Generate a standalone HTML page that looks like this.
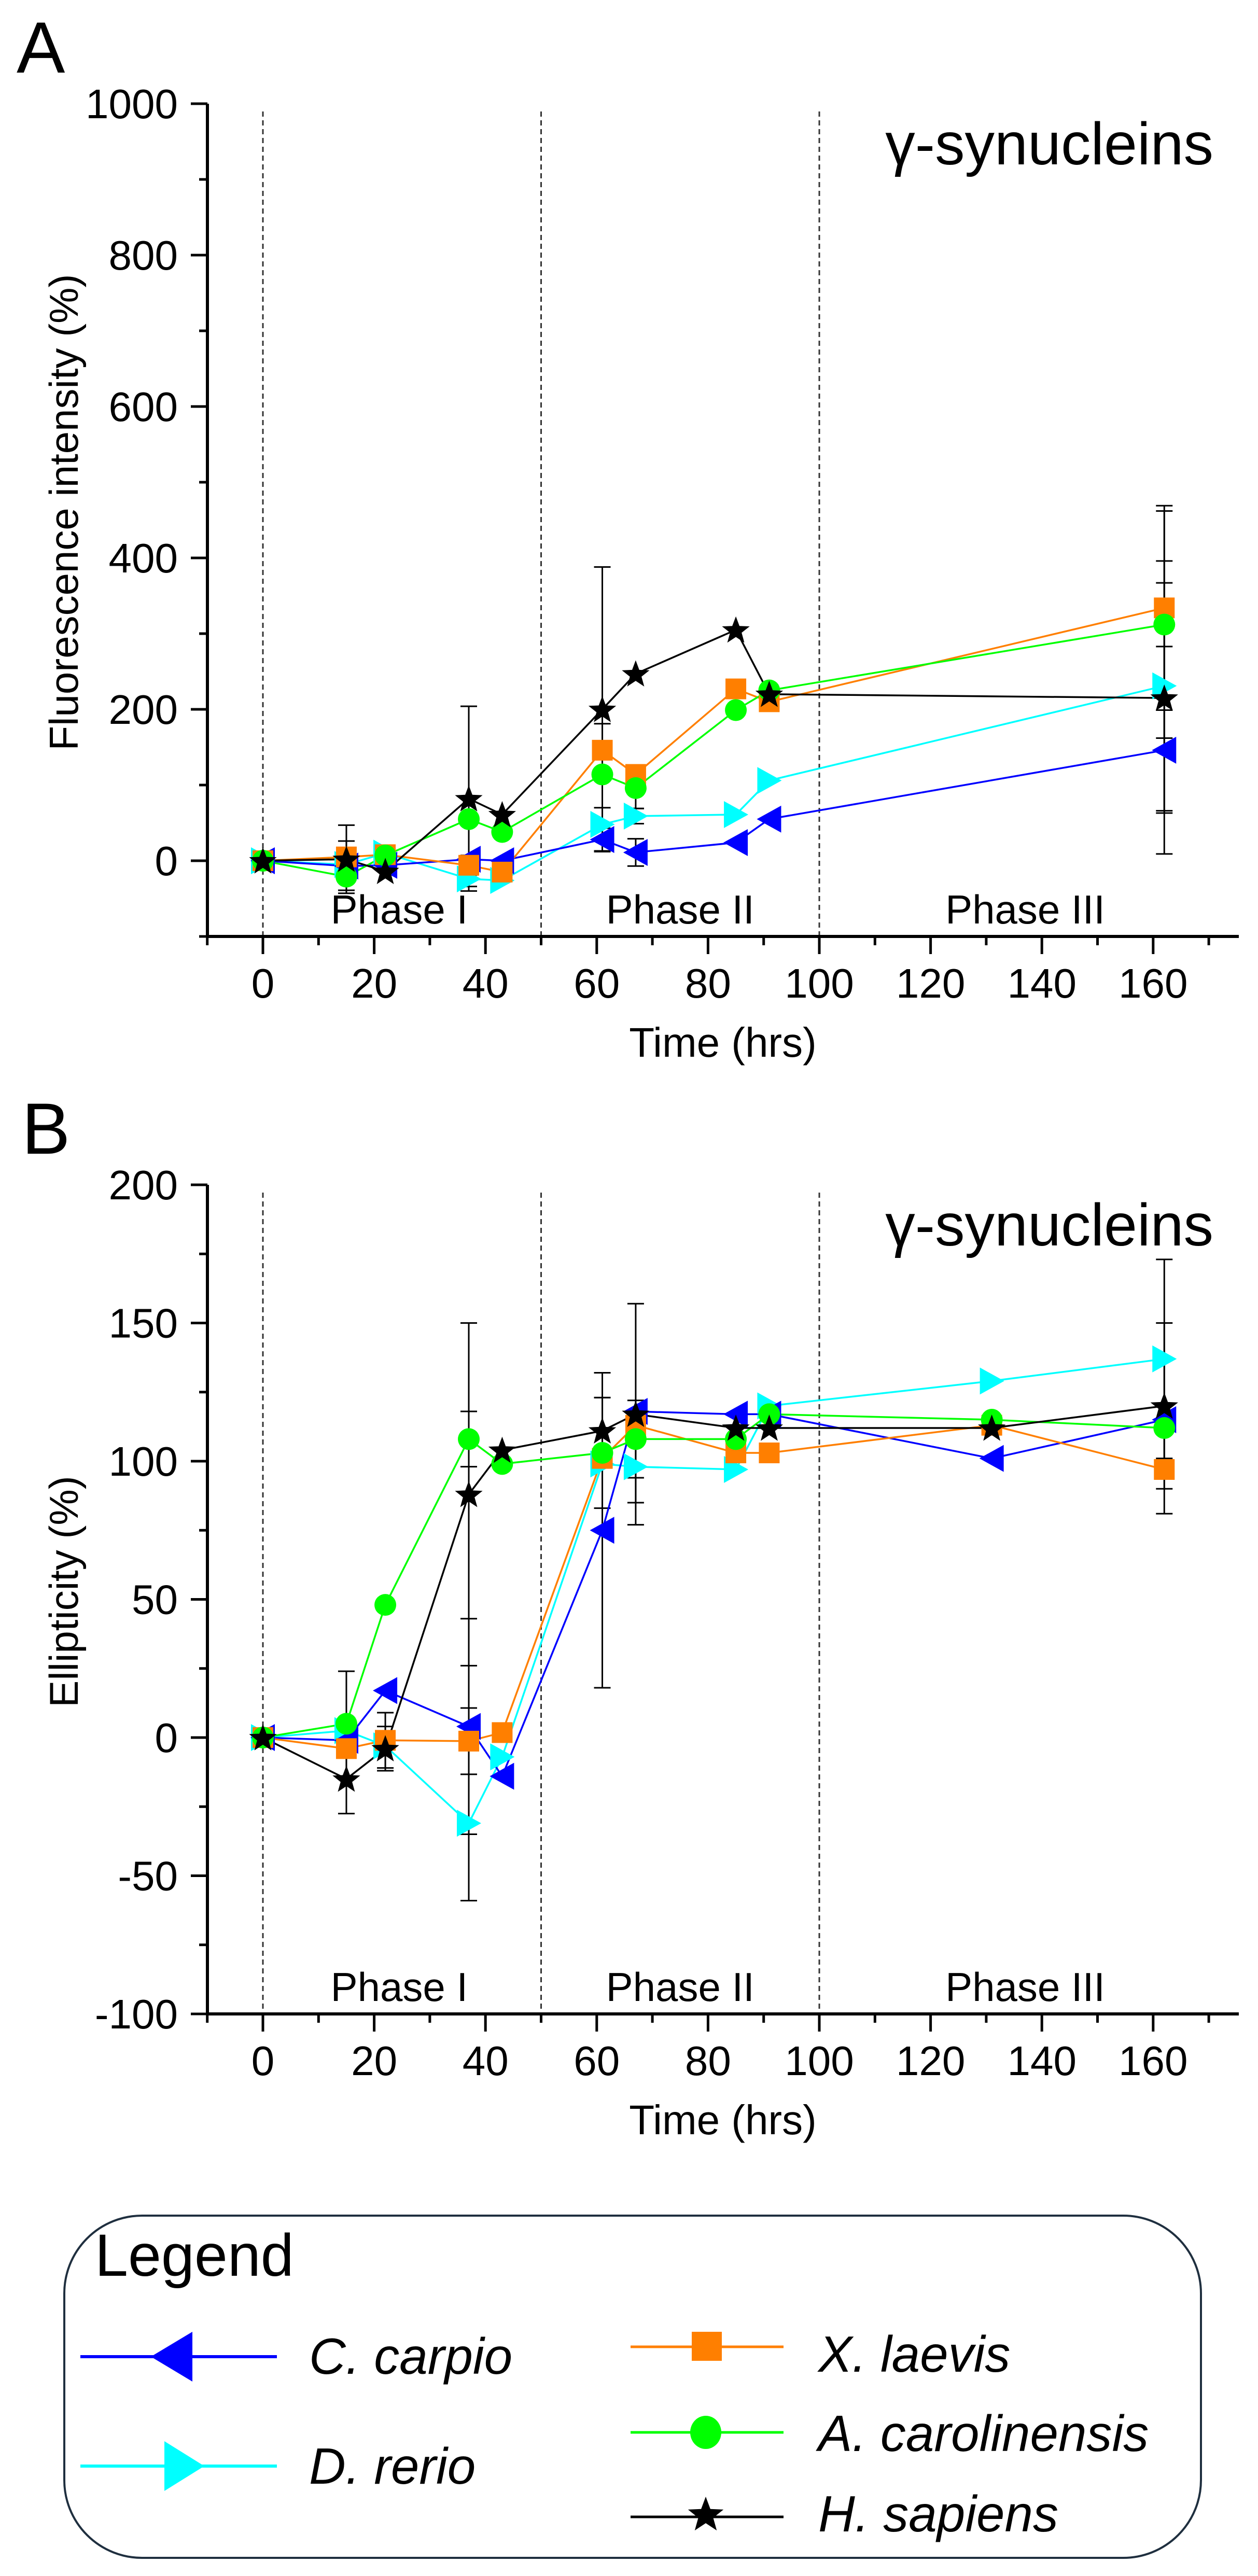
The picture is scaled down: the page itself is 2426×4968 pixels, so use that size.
<!DOCTYPE html>
<html><head><meta charset="utf-8"><style>
html,body{margin:0;padding:0;background:#fff}
svg{display:block}
text{font-family:"Liberation Sans",Arial,sans-serif}
</style></head><body>
<svg id="fig" xmlns="http://www.w3.org/2000/svg" width="2426" height="4968" viewBox="0 0 2426 4968">
<rect width="2426" height="4968" fill="#fff"/>
<g id="panelA"></g>
<g id="panelB"></g>
<g id="legend">
<rect x="124" y="4273" width="2192" height="660" rx="150" ry="150" fill="#fff" stroke="#1f2f3f" stroke-width="4"/>
<text x="183" y="4389" font-size="115">Legend</text>
<g>
<line x1="155" y1="4545" x2="534" y2="4545" stroke="#0000ff" stroke-width="6"/>
<polygon points="291,4545 371,4497 371,4593" fill="#0000ff"/>
<text x="596" y="4578" font-size="98" font-style="italic">C. carpio</text></g>
<g>
<line x1="155" y1="4756" x2="534" y2="4756" stroke="#00ffff" stroke-width="6"/>
<polygon points="394,4756 317,4708 317,4804" fill="#00ffff"/>
<text x="596" y="4790" font-size="98" font-style="italic">D. rerio</text></g>
<g>
<line x1="1216" y1="4526" x2="1511" y2="4526" stroke="#ff7f00" stroke-width="5"/>
<rect x="1334" y="4497" width="58" height="56" fill="#ff7f00"/>
<text x="1578" y="4574" font-size="98" font-style="italic">X. laevis</text></g>
<g>
<line x1="1216" y1="4691" x2="1511" y2="4691" stroke="#00ff00" stroke-width="5"/>
<ellipse cx="1361" cy="4691" rx="30" ry="32" fill="#00ff00"/>
<text x="1578" y="4727" font-size="98" font-style="italic">A. carolinensis</text></g>
<g>
<line x1="1216" y1="4854" x2="1511" y2="4854" stroke="#000" stroke-width="5"/>
<polygon id="legstar" fill="#000" points=""/>
<text x="1578" y="4882" font-size="98" font-style="italic">H. sapiens</text></g>
</g>
</svg>
<script>
const times = [0, 15, 22, 37, 43, 61, 67, 85, 91, 162];
const timesB = [0, 15, 22, 37, 43, 61, 67, 85, 91, 131, 162];
const xTicks = [0, 20, 40, 60, 80, 100, 120, 140, 160];
const yTicksA = [0, 200, 400, 600, 800, 1000];
const yTicksB = [-100, -50, 0, 50, 100, 150, 200];
const phaseLines = [0, 50, 100];
const phaseNames = ["Phase I", "Phase II", "Phase III"];
const phaseCenters = [24.5, 75, 137];

const carpioA = [0, -7, -6, 2, 0, 28, 11, 24, 55, 146];
const rerioA = [0, -5, 10, -24, -26, 48, 59, 61, 106, 231];
const laevisA = [0, 5, 8, -6, -15, 146, 114, 227, 210, 334];
const carolA = [0, -21, 7, 55, 38, 114, 96, 199, 225, 312];
const sapiensA = [0, 2, -14, 82, 61, 200, 247, 305, 220, 215];
const carpioAerr = [0, 0, 0, 0, 0, 15, 18, 0, 0, 137];
const rerioAerr = [0, 0, 0, 10, 0, 22, 10, 0, 0, 165];
const laevisAerr = [0, 21, 0, 13, 0, 35, 8, 0, 0, 135];
const carolAerr = [0, 18, 0, 0, 0, 0, 27, 0, 0, 150];
const sapiensAerr = [0, 45, 0, 122, 0, 188, 0, 0, 0, 152];

const carpioB = [0, -1, 17, 4, -14, 75, 118, 117, 117, 101, 115];
const rerioB = [0, 2.5, -3, -31, -7, 99, 98, 97, 120, 129, 137];
const laevisB = [0, -4, -1, -1.3, 1.8, 101, 113, 103, 103, 113, 97];
const carolB = [0, 5, 48, 108, 99, 103, 108, 108, 117, 115, 112];
const sapiensB = [0, -15, -4, 88, 104, 111, 117, 112, 112, 112, 120];
const carpioBerr = [0, 0, 0, 39, 0, 57, 0, 0, 0, 0, 0];
const rerioBerr = [0, 0, 0, 28, 0, 0, 13, 0, 0, 0, 36];
const laevisBerr = [0, 0, 10, 12, 0, 0, 0, 0, 0, 0, 16];
const carolBerr = [0, 19, 0, 10, 0, 20, 14, 0, 0, 0, 0];
const sapiensBerr = [0, 12.5, 8, 62, 0, 12, 40, 0, 0, 0, 30];

const NS = "http://www.w3.org/2000/svg";
function mk(parent, tag, attrs, txt) {
  const e = document.createElementNS(NS, tag);
  for (const k in attrs) e.setAttribute(k, attrs[k]);
  if (txt !== undefined) e.textContent = txt;
  parent.appendChild(e);
  return e;
}
const xPix = v => 507 + v * 10.73;
function starPts(cx, cy, R) {
  const r = R * 0.42, p = [];
  for (let i = 0; i < 10; i++) {
    const a = -Math.PI / 2 + i * Math.PI / 5, rr = i % 2 ? r : R;
    p.push((cx + rr * Math.cos(a)).toFixed(1) + "," + (cy + rr * Math.sin(a)).toFixed(1));
  }
  return p.join(" ");
}
document.getElementById("legstar").setAttribute("points", starPts(1361, 4851, 36));

function marker(g, kind, cx, cy, color) {
  let m;
  if (kind === "left") m = mk(g, "polygon", {points: `${cx-24},${cy} ${cx+23},${cy-26} ${cx+23},${cy+26}`, fill: color});
  else if (kind === "right") m = mk(g, "polygon", {points: `${cx+24},${cy} ${cx-23},${cy-26} ${cx-23},${cy+26}`, fill: color});
  else if (kind === "square") m = mk(g, "rect", {x: cx-20, y: cy-20, width: 40, height: 40, fill: color});
  else if (kind === "circle") m = mk(g, "circle", {cx: cx, cy: cy, r: 21, fill: color});
  else m = mk(g, "polygon", {points: starPts(cx, cy + 2, 28), fill: color});
  return m;
}

function panel(gid, cfg) {
  const g = document.getElementById(gid);
  const y = v => cfg.y0 - v * cfg.ky;
  const top = y(cfg.yMax), bot = y(cfg.yMin);
  const L = mk(g, "text", {x: cfg.letterX, y: top - 60, "font-size": 140}, cfg.letter);
  
  
  phaseLines.forEach(p => {
    const l = mk(g, "line", {x1: xPix(p), x2: xPix(p), y1: top + 15, y2: bot, stroke: "#333", "stroke-width": 3, "stroke-dasharray": "10,7"});
    
    
  });
  phaseNames.forEach((n, i) => {
    const t = mk(g, "text", {x: xPix(phaseCenters[i]), y: bot - 25, "font-size": 78, "text-anchor": "middle"}, n);
    
    
  });
  const ax = mk(g, "path", {d: `M400,${top} V${bot+2} M398,${bot} H2389`, stroke: "#000", "stroke-width": 6, fill: "none"});
  
  
  for (let v = -10; v <= 175; v += 10) {
    const major = v % 20 === 0;
    mk(g, "line", {x1: xPix(v), x2: xPix(v), y1: bot, y2: bot + (major ? 34 : 17), stroke: "#000", "stroke-width": 5});
  }
  xTicks.forEach(v => {
    const t = mk(g, "text", {x: xPix(v), y: bot + 118, "font-size": 80, "text-anchor": "middle"}, String(v));
    
    
  });
  for (let v = cfg.yMin; v <= cfg.yMax; v += cfg.minor) {
    const major = cfg.ticks.includes(v);
    mk(g, "line", {x1: 400, x2: major ? 368 : 384, y1: y(v), y2: y(v), stroke: "#000", "stroke-width": 5});
  }
  cfg.ticks.forEach(v => {
    const t = mk(g, "text", {x: 343, y: y(v) + 28, "font-size": 80, "text-anchor": "end"}, String(v));
    
    
  });
  const xt = mk(g, "text", {x: 1394, y: bot + 232, "font-size": 80, "text-anchor": "middle"}, "Time (hrs)");
  
  
  const cy = (top + bot) / 2 - 15;
  const yt = mk(g, "text", {x: 0, y: 0, "font-size": 78, "text-anchor": "middle", transform: `translate(150,${cy}) rotate(-90)`}, cfg.ytitle);
  
  
  const tt = mk(g, "text", {x: 2340, y: top + 117, "font-size": 115, "text-anchor": "end"}, "γ-synucleins");
  
  

  cfg.series.forEach(s => {
    s.vals.forEach((v, i) => {
      const e = s.err[i]; if (!e) return;
      const x = xPix(cfg.t[i]);
      const eb = mk(g, "path", {d: `M${x},${y(v+e)} V${y(v-e)} M${x-16},${y(v+e)} H${x+16} M${x-16},${y(v-e)} H${x+16}`, stroke: "#000", "stroke-width": 3, fill: "none"});
      
      
    });
  });
  cfg.series.forEach(s => {
    const pts = s.vals.map((v, i) => xPix(cfg.t[i]).toFixed(1) + "," + y(v).toFixed(1)).join(" ");
    const ln = mk(g, "polyline", {points: pts, fill: "none", stroke: s.color, "stroke-width": 3.5});
    
    
  });
  cfg.series.forEach(s => {
    s.vals.forEach((v, i) => {
      const m = marker(g, s.kind, xPix(cfg.t[i]), y(v), s.color);
      
      
    });
  });
}

panel("panelA", {
  letter: "A", letterX: 32, y0: 1660, ky: 1.46, yMin: -100, yMax: 1000, minor: 100, ticks: yTicksA, t: times,
  ytitle: "Fluorescence intensity (%)",
  series: [
    {name: "d-rerio", kind: "right", color: "#00ffff", vals: rerioA, err: rerioAerr},
    {name: "c-carpio", kind: "left", color: "#0000ff", vals: carpioA, err: carpioAerr},
    {name: "x-laevis", kind: "square", color: "#ff7f00", vals: laevisA, err: laevisAerr},
    {name: "a-carolinensis", kind: "circle", color: "#00ff00", vals: carolA, err: carolAerr},
    {name: "h-sapiens", kind: "star", color: "#000000", vals: sapiensA, err: sapiensAerr}
  ]
});
panel("panelB", {
  letter: "B", letterX: 42, y0: 3351, ky: 5.33, yMin: -100, yMax: 200, minor: 25, ticks: yTicksB, t: timesB,
  ytitle: "Ellipticity (%)",
  series: [
    {name: "d-rerio", kind: "right", color: "#00ffff", vals: rerioB, err: rerioBerr},
    {name: "c-carpio", kind: "left", color: "#0000ff", vals: carpioB, err: carpioBerr},
    {name: "x-laevis", kind: "square", color: "#ff7f00", vals: laevisB, err: laevisBerr},
    {name: "a-carolinensis", kind: "circle", color: "#00ff00", vals: carolB, err: carolBerr},
    {name: "h-sapiens", kind: "star", color: "#000000", vals: sapiensB, err: sapiensBerr}
  ]
});
</script>
</body></html>
